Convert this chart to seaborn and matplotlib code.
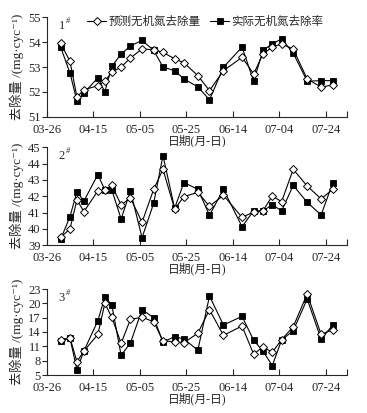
import pandas as pd
import matplotlib
matplotlib.use("Agg")
from matplotlib import pyplot as plt
import matplotlib.dates as mdates
import seaborn as sns

# 采样日期 (月-日)
dates = pd.to_datetime(["2015-04-01", "2015-04-05", "2015-04-08", "2015-04-11", "2015-04-17",
                        "2015-04-20", "2015-04-23", "2015-04-27", "2015-05-01", "2015-05-06",
                        "2015-05-11", "2015-05-15", "2015-05-20", "2015-05-24", "2015-05-30",
                        "2015-06-04", "2015-06-10", "2015-06-18", "2015-06-23", "2015-06-27",
                        "2015-07-01", "2015-07-05", "2015-07-10", "2015-07-16", "2015-07-22",
                        "2015-07-27"])

# 1# 池
pred_1 = [53.96, 53.23, 51.79, 52.08, 52.25, 52.43, 52.79, 53.00, 53.36, 53.73, 53.69, 53.59, 53.33,
          53.17, 52.65, 52.05, 52.85, 53.39, 52.72, 53.53, 53.80, 53.93, 53.72, 52.52, 52.19, 52.28]
real_1 = [53.80, 52.76, 51.63, 51.96, 52.56, 52.00, 53.03, 53.52, 53.85, 54.07, 53.67, 53.00, 52.85,
          52.52, 52.20, 51.68, 52.99, 53.80, 52.43, 53.67, 53.93, 54.13, 53.56, 52.43, 52.45, 52.45]
# 2# 池
pred_2 = [39.49, 40.00, 41.78, 41.06, 42.33, 42.39, 42.67, 41.47, 41.90, 40.41, 42.43, 43.65, 41.22,
          41.98, 42.24, 41.39, 42.06, 40.71, 41.04, 41.12, 42.02, 41.67, 43.65, 42.63, 41.84, 42.43]
real_2 = [39.37, 40.76, 42.27, 41.71, 43.33, 42.39, 42.39, 40.61, 42.33, 39.47, 41.57, 44.49, 41.27,
          42.84, 42.43, 40.84, 42.43, 40.14, 41.12, 41.10, 41.49, 41.10, 42.67, 41.63, 40.86, 42.82]
# 3# 池
pred_3 = [12.32, 12.80, 7.79, 10.02, 13.50, 20.00, 17.07, 11.63, 16.65, 17.07, 16.16, 12.11, 11.97,
          11.76, 13.75, 18.67, 13.30, 15.25, 9.32, 10.93, 9.74, 12.40, 15.10, 21.95, 13.50, 14.49]
real_3 = [12.11, 12.74, 6.11, 10.02, 16.37, 21.33, 19.65, 9.11, 11.70, 18.67, 17.00, 11.90, 13.02,
          12.53, 10.20, 21.53, 15.46, 17.28, 12.25, 10.02, 6.95, 12.30, 14.28, 20.90, 12.53, 15.46]

panel_names = ["1", "2", "3"]
y_ranges = [(51, 55), (39, 45), (5, 23)]
y_ticks = [[51, 52, 53, 54, 55], [39, 40, 41, 42, 43, 44, 45], [5, 8, 11, 14, 17, 20, 23]]
x_ticks = pd.date_range("2015-03-26", periods=7, freq="20D")
x_end = pd.Timestamp("2015-08-02")

label_pred = "预测无机氮去除量"
label_real = "实际无机氮去除率"
y_label = "去除量 /(mg·cyc⁻¹)"
x_label = "日期(月-日)"

sns.set_style("ticks")
plt.rcParams["font.family"] = ["Liberation Serif", "Noto Sans CJK SC", "DejaVu Sans"]
plt.rcParams["axes.linewidth"] = 0.8

fig = plt.figure(figsize=(3.67, 4.13), dpi=100)
W, H = 367.0, 413.0
# 各子图 (上, 下) 像素位置
boxes = [(17.3, 116.7), (147.3, 245.3), (289.0, 375.0)]
left, right = 46.7, 346.7

series = [(pred_1, real_1), (pred_2, real_2), (pred_3, real_3)]

for i, (pred, real) in enumerate(series):
    top, bottom = boxes[i]
    ax = fig.add_axes([left / W, 1 - bottom / H, (right - left) / W, (bottom - top) / H])

    sns.lineplot(x=dates, y=real, ax=ax, color="black", linewidth=0.8, marker="s",
                 markersize=4, markerfacecolor="black", markeredgecolor="black",
                 markeredgewidth=0.6, label=label_real if i == 0 else None, zorder=2)
    sns.lineplot(x=dates, y=pred, ax=ax, color="black", linewidth=0.8, marker="D",
                 markersize=3.8, markerfacecolor="white", markeredgecolor="black",
                 markeredgewidth=0.7, label=label_pred if i == 0 else None, zorder=3)

    ax.set_xlim(x_ticks[0], x_end)
    ax.set_ylim(*y_ranges[i])
    ax.set_yticks(y_ticks[i])
    ax.set_xticks(x_ticks)
    ax.set_xticks([x_end], minor=True)
    ax.xaxis.set_major_formatter(mdates.DateFormatter("%m-%d"))
    ax.tick_params(axis="x", direction="in", length=4, width=0.8, labelsize=9, pad=5)
    ax.tick_params(axis="x", which="minor", direction="in", length=4, width=0.8)
    ax.tick_params(axis="y", direction="out", length=3.5, width=0.8, labelsize=9, pad=1)
    sns.despine(ax=ax)

    ax.set_xlabel(x_label, fontsize=8.5, labelpad=-1)
    ax.set_ylabel(y_label, fontsize=9.5, labelpad=3)

    ax.text(0.04, 0.97, panel_names[i], transform=ax.transAxes, fontsize=9,
            ha="left", va="top")
    ax.text(0.065, 1.0, "#", transform=ax.transAxes, fontsize=6, ha="left", va="top",
            style="italic")

    if i == 0:
        h, l = ax.get_legend_handles_labels()
        # 预测在前, 实际在后
        order = [l.index(label_pred), l.index(label_real)]
        ax.legend([h[k] for k in order], [l[k] for k in order], loc="upper left",
                  bbox_to_anchor=(0.12, 1.06), ncol=2, frameon=False, fontsize=8.3,
                  handlelength=1.6, handletextpad=0.2, columnspacing=0.9, numpoints=1,
                  borderaxespad=0)
    else:
        if ax.get_legend() is not None:
            ax.get_legend().remove()

fig.savefig("out.png", dpi=100)
